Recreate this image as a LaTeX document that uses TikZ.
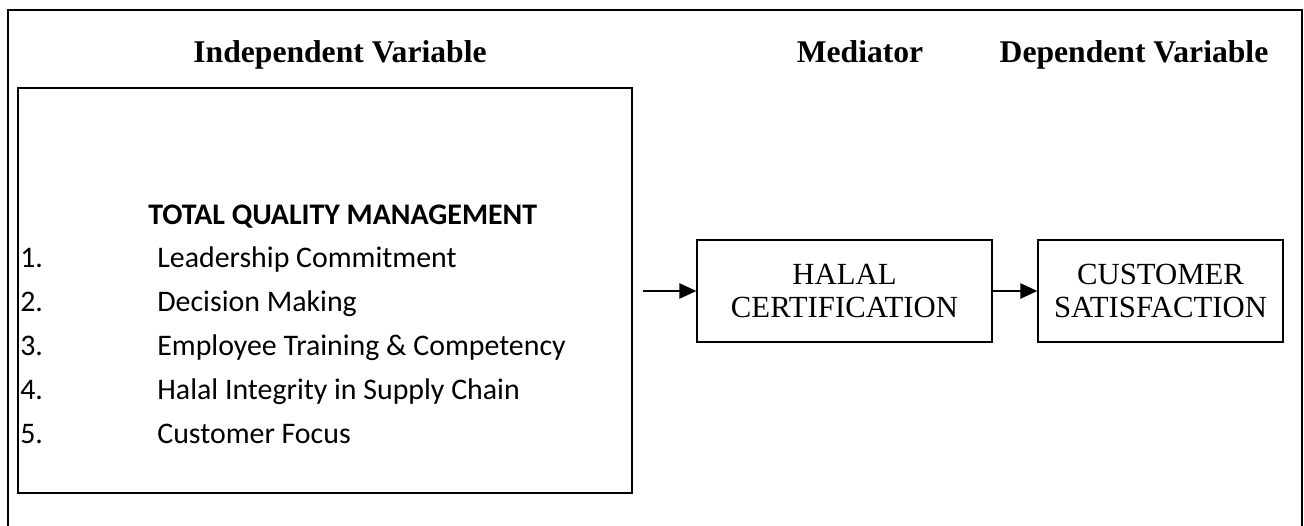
\documentclass[tikz,border=0pt]{standalone}
\usepackage{fontspec}
\setmainfont{Liberation Serif}
\newfontfamily\calibri{Carlito}
\usetikzlibrary{arrows.meta,positioning}

\begin{document}
\begin{tikzpicture}[x=0.02cm,y=-0.02cm,
  head/.style={anchor=base,font=\fontsize{18}{21}\selectfont\bfseries},
  var/.style={draw,line width=.7pt,align=center,inner sep=0pt,minimum height=2.04cm,
              font=\fontsize{17.5}{19}\selectfont},
  lst/.style={anchor=base west,inner sep=0pt,font=\calibri\fontsize{17}{20}\selectfont},
  arr/.style={line width=1.3pt,-{Triangle[length=.34cm,width=.3cm]}}]
  \useasboundingbox (0,0) rectangle (1304,526);
  % outer frame, runs off the bottom of the page
  \draw[line width=1.1pt] (8,540) -- (8,10) -- (1302,10) -- (1302,540);
  \node[head] (hiv) at (340,63) {Independent Variable};
  \node[head] (hmed) at (860,63) {Mediator};
  \node[head] (hdv) at (1134,63) {Dependent Variable};
  % independent variable
  \node[draw,line width=.7pt,minimum width=12.28cm,minimum height=8.1cm] (ivbox) at (325,290.5) {};
  \node[lst,font=\calibri\fontsize{17}{20}\selectfont\bfseries] (tqm) at (148,225)
    {TOTAL QUALITY MANAGEMENT};
  \foreach \i/\txt [evaluate=\i as \yy using 224+43.8*\i] in
    {1/Leadership Commitment,2/Decision Making,3/Employee Training \& Competency,
     4/Halal Integrity in Supply Chain,5/Customer Focus}{
    \node[lst] (num\i) at (20,\yy) {\i.};
    \node[lst] (item\i) at (157,\yy) {\txt};
  }
  % mediator and dependent variable
  \node[var,minimum width=5.9cm] (halal) at (844.5,291) {HALAL\\CERTIFICATION};
  \node[var,minimum width=4.9cm] (cust) at (1160.5,291) {CUSTOMER\\SATISFACTION};
  \draw[arr,shorten <=.2cm] (ivbox.east |- halal.west) -- (halal.west);
  \draw[arr] (halal) -- (cust);
\end{tikzpicture}
\end{document}
